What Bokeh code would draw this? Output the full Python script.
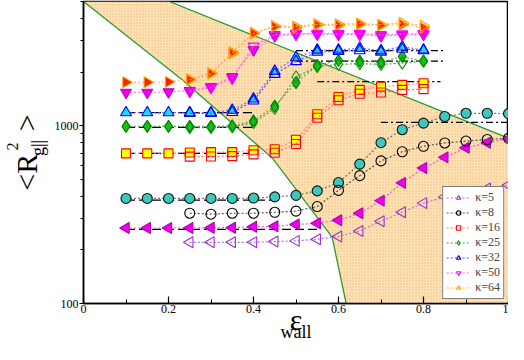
import math
from bokeh.plotting import figure
from bokeh.models import FixedTicker, Legend, LegendItem, Range1d, LinearAxis
from bokeh.embed import file_html
from bokeh.resources import INLINE

# ---------------- data ----------------
eps_all = [0.10, 0.15, 0.20, 0.25, 0.30, 0.35, 0.40, 0.45, 0.50, 0.55,
           0.60, 0.65, 0.70, 0.75, 0.80, 0.85, 0.90, 0.95, 1.00]
eps_to80 = eps_all[:15]
eps_open_all = eps_all[3:]
eps_open_to80 = eps_all[3:15]

kappa_labels = ["κ=5", "κ=8", "κ=16", "κ=25", "κ=32", "κ=50", "κ=64"]

# filled symbols
k5_filled = [266, 266, 266, 266, 267, 267, 270, 272, 278, 283, 294, 322, 379, 477, 578, 664, 751, 803, 845]
k8_filled = [390, 390, 390, 390, 390, 390, 392, 398, 406, 430, 479, 608, 803, 950, 1035, 1127, 1175, 1175, 1170]
k16_filled = [699, 699, 699, 707, 711, 711, 728, 738, 834, 1160, 1452, 1592, 1660, 1697, 1733]
k25_filled = [992, 992, 992, 992, 992, 1000, 1065, 1289, 1747, 2187, 2330, 2310, 2279, 2450, 2310]
k32_filled = [1185, 1185, 1185, 1185, 1185, 1225, 1416, 2026, 2420, 2668, 2668, 2737, 2645, 2782, 2668]
k50_filled = [1539, 1539, 1550, 1573, 1660, 1885, 2668, 3199, 3268, 3280, 3268, 3268, 3199, 3240, 3268]
k64_filled = [1756, 1756, 1765, 1824, 1983, 2588, 3335, 3599, 3553, 3692, 3664, 3710, 3664, 3710, 3553]

# open symbols
k5_open = [221, 221, 221, 221, 223, 225, 230, 238, 256, 290, 326, 367, 398, 421, 444, 464]
k8_open = [322, 318, 322, 322, 326, 331, 351, 433, 524, 634, 714, 766, 800, 820, 837, 850]
k16_open = [670, 672, 675, 690, 705, 790, 1110, 1390, 1513, 1539, 1592, 1606]
k25_open = [975, 975, 985, 1040, 1250, 1885, 2150, 2215, 2235, 2215, 2251, 2310]
k32_open = [1175, 1175, 1190, 1380, 1950, 2300, 2600, 2620, 2650, 2600, 2700, 2650]
k50_open = [1560, 1640, 1850, 2800, 3250, 3300, 3300, 3290, 3300, 3250, 3280, 3300]
k64_open = [1810, 1960, 2550, 3300, 3640, 3620, 3720, 3720, 3760, 3700, 3800, 3650]

# plateau reference lines
low_level = [261, 382, 699, 980, 1185]
low_start = [0.10, 0.10, 0.10, 0.10, 0.10]
low_end = [0.55, 0.45, 0.40, 0.40, 0.40]
high_level = [1044, 1769, 2309, 2645]
high_start = [0.70, 0.55, 0.50, 0.50]
high_end = [1.00, 0.84, 0.85, 0.85]

# phase-region boundaries
bound_low_eps = [0.0, 0.233, 0.445, 0.585, 0.618]
bound_low_R = [5000, 1807, 656, 236, 100]
bound_up_eps = [0.202, 1.0]
bound_up_R = [5000, 851]

x_ticks = [0, 0.2, 0.4, 0.6, 0.8, 1.0]
x_minor = [0.1, 0.3, 0.5, 0.7, 0.9]
y_ticks = [100, 1000]
y_minor = [200, 300, 400, 500, 600, 700, 800, 900, 2000, 3000, 4000, 5000]
x_lim = (0.0, 1.0)
y_lim = (100, 5000)

SERIF = "Liberation Serif"
NB = "\u00a0"

p = figure(width=508, height=344, output_backend="svg", toolbar_location=None,
           y_axis_type="log", x_range=Range1d(*x_lim), y_range=Range1d(*y_lim),
           min_border_left=76, min_border_right=0, min_border_top=1, min_border_bottom=36)
p.grid.visible = False
p.outline_line_color = "black"
p.outline_line_width = 1.5
p.background_fill_color = "white"
p.border_fill_color = "white"

# shaded region
patch_x = bound_low_eps + [x_lim[1]] + bound_up_eps[::-1]
patch_y = bound_low_R + [y_lim[0]] + bound_up_R[::-1]
p.patch(patch_x, patch_y, fill_color="#fde2ba", line_color=None,
        hatch_pattern="dot", hatch_color="#f3a848", hatch_scale=3, hatch_weight=1.2, hatch_alpha=0.7)
p.line(bound_low_eps, bound_low_R, line_color="#2f9a2f", line_width=1.3)
p.line(bound_up_eps, bound_up_R, line_color="#2f9a2f", line_width=1.3)

HALF = math.pi / 2

filled_specs = [
    (eps_all, k5_filled, "triangle", HALF, "#ee00ee", "#b000b0", "#e040e0", 11),
    (eps_all, k8_filled, "circle", 0, "#3cc9bd", "#111111", "#555555", 10),
    (eps_to80, k16_filled, "square", 0, "#ffff00", "#ff0000", "#ff7070", 9),
    (eps_to80, k25_filled, "diamond", 0, "#14c014", "#007a00", "#40a040", 12),
    (eps_to80, k32_filled, "triangle", 0, "#22d8f0", "#0000ff", "#5050ff", 11),
    (eps_to80, k50_filled, "inverted_triangle", 0, "#ee00ee", "#c000c0", "#ff60ff", 11),
    (eps_to80, k64_filled, "triangle", -HALF, "#ff2000", "#ffa500", "#ffb040", 11),
]
open_specs = [
    (eps_open_all, k5_open, "triangle", HALF, "#9932cc", "#b070f0", 11),
    (eps_open_all, k8_open, "circle", 0, "#000000", "#555555", 10),
    (eps_open_to80, k16_open, "square", 0, "#ff0000", "#ff7070", 9),
    (eps_open_to80, k25_open, "diamond", 0, "#009900", "#40a040", 12),
    (eps_open_to80, k32_open, "triangle", 0, "#0000ff", "#5050ff", 11),
    (eps_open_to80, k50_open, "inverted_triangle", 0, "#ff00ff", "#ff60ff", 11),
    (eps_open_to80, k64_open, "triangle", -HALF, "#ffa500", "#ffb040", 11),
]

# plateau lines
p.segment(x0=low_start, y0=low_level, x1=low_end, y1=low_level,
          line_color="black", line_width=1.2, line_dash="9 4")
p.segment(x0=high_start, y0=high_level, x1=high_end, y1=high_level,
          line_color="black", line_width=1.2, line_dash="7 3 2 3")

for xs, ys, mk, ang, fc, lc, dl, sz in filled_specs:
    p.line(xs, ys, line_color=dl, line_width=1.2, line_dash="2 2", line_alpha=0.8)
    p.scatter(xs, ys, marker=mk, angle=ang, size=sz, fill_color=fc, line_color=lc, line_width=1.1)

items = []
for (xs, ys, mk, ang, c, dl, sz), lab in zip(open_specs, kappa_labels):
    r1 = p.line(xs, ys, line_color=dl, line_width=1.2, line_dash="2 2")
    r2 = p.scatter(xs, ys, marker=mk, angle=ang, size=sz, fill_color=None, line_color=c, line_width=1.1)
    items.append(LegendItem(label=lab, renderers=[r1, r2]))

legend = Legend(items=items, location="bottom_right", border_line_color="black", border_line_width=1.3,
                background_fill_color="white", background_fill_alpha=1.0,
                label_text_font=SERIF, label_text_font_size="12px", label_height=11,
                glyph_height=11, glyph_width=24, spacing=0, padding=3, margin=4,
                label_standoff=5)
p.add_layout(legend, "center")

# main axes
p.xaxis.ticker = FixedTicker(ticks=x_ticks, minor_ticks=x_minor)
p.yaxis.ticker = FixedTicker(ticks=y_ticks, minor_ticks=y_minor)
p.xaxis.major_label_overrides = {0: "0", 0.2: "0.2", 0.4: "0.4", 0.6: "0.6", 0.8: "0.8", 1.0: "1"}
p.yaxis.major_label_overrides = {100: "100", 1000: "1000"}
for ax in (p.xaxis[0], p.yaxis[0]):
    ax.axis_line_width = 1.5
    ax.axis_line_color = "black"
    ax.major_tick_line_color = "black"
    ax.minor_tick_line_color = "black"
    ax.major_tick_line_width = 1.2
    ax.minor_tick_line_width = 1.0
    ax.major_label_text_font = SERIF
    ax.major_label_text_font_size = "12px"
    ax.major_label_text_color = "black"
    ax.axis_label_text_font = SERIF
    ax.axis_label_text_font_style = "normal"
    ax.axis_label_text_color = "black"
p.xaxis.major_tick_in = 7
p.xaxis.major_tick_out = 0
p.xaxis.minor_tick_in = 4
p.xaxis.minor_tick_out = 0
p.xaxis.major_label_standoff = 1
p.yaxis.major_tick_in = 0
p.yaxis.major_tick_out = 4
p.yaxis.minor_tick_in = 0
p.yaxis.minor_tick_out = 3
p.yaxis.major_label_standoff = 1

# axis titles: ε_wall and <R_g||^2>, built from stacked axis labels
p.xaxis.axis_label = "ε"
p.xaxis.axis_label_text_font_size = "30px"
p.xaxis.axis_label_text_align = "right"
p.xaxis.axis_label_standoff = -13

p.yaxis.axis_label = NB + NB + "g||"
p.yaxis.axis_label_text_font_size = "18px"
p.yaxis.axis_label_text_align = "left"
p.yaxis.axis_label_standoff = 4


def label_axis(place, text, size, align, standoff):
    ax = LinearAxis(ticker=FixedTicker(ticks=[]), axis_line_color=None,
                    major_tick_out=0, major_tick_in=0, minor_tick_out=0, minor_tick_in=0,
                    major_label_standoff=0, major_label_text_font_size="0px",
                    axis_label=text, axis_label_text_font=SERIF,
                    axis_label_text_font_size=size, axis_label_text_font_style="normal",
                    axis_label_text_color="black", axis_label_text_align=align,
                    axis_label_standoff=standoff)
    p.add_layout(ax, place)


label_axis("below", "wall", "18px", "left", -17)
label_axis("left", "<R" + NB * 3 + ">", "30px", "center", -18)
label_axis("left", NB * 3 + "2", "16px", "left", -14)

open("out.html", "w").write(file_html(p, INLINE))
